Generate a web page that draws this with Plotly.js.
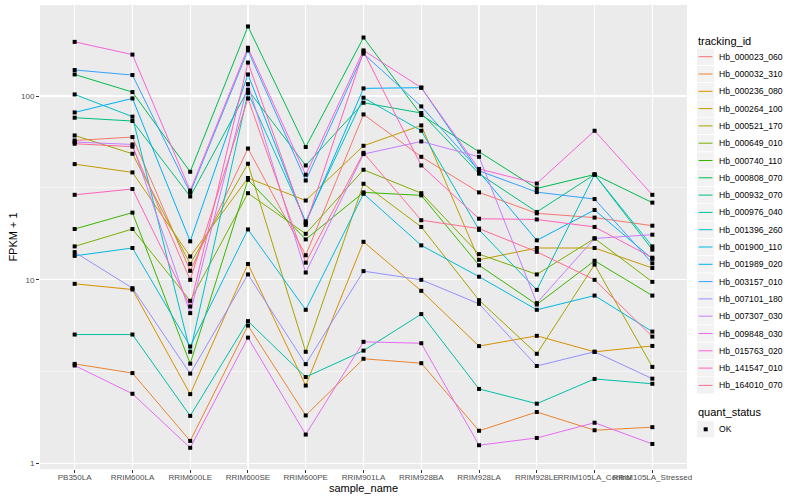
<!DOCTYPE html>
<html>
<head>
<meta charset="utf-8">
<script src="https://cdn.plot.ly/plotly-3.0.1.min.js"></script>
<style>html,body{margin:0;padding:0;background:#fff;}#chart{width:800px;height:500px;}</style>
</head>
<body>
<div id="chart"></div>
<script>
const samples = ["PB350LA","RRIM600LA","RRIM600LE","RRIM600SE","RRIM600PE","RRIM901LA","RRIM928BA","RRIM928LA","RRIM928LE","RRIM105LA_Control","RRIM105LA_Stressed"];

const Hb_000023_060 = [57.3, 59.8, 11.2, 51.8, 13.6, 79.4, 46.7, 29.9, 23.0, 21.8, 19.7];
const Hb_000032_310 = [3.49, 3.11, 1.33, 5.64, 1.83, 3.72, 3.52, 1.51, 1.91, 1.52, 1.58];
const Hb_000236_080 = [9.51, 8.86, 2.39, 12.2, 2.66, 16.1, 8.71, 4.36, 4.96, 4.06, 4.37];
const Hb_000264_100 = [42.6, 38.4, 13.4, 35.8, 27.0, 53.6, 69.2, 12.85, 14.9, 14.9, 11.6];
const Hb_000521_170 = [61.0, 48.5, 12.2, 42.8, 4.06, 33.3, 19.4, 7.75, 3.96, 12.1, 3.36];
const Hb_000649_010 = [15.2, 18.9, 7.69, 29.6, 17.8, 39.7, 29.6, 13.8, 10.7, 16.8, 9.75];
const Hb_000740_110 = [18.9, 23.2, 3.50, 35.0, 16.6, 29.9, 28.8, 12.0, 7.34, 12.7, 8.21];
const Hb_000808_070 = [131, 105, 38.7, 239, 52.8, 208, 78.8, 49.8, 31.4, 37.4, 26.3];
const Hb_000932_070 = [76.2, 73.1, 28.4, 108, 41.9, 91.9, 80.8, 37.8, 23.4, 37.4, 14.6];
const Hb_000976_040 = [5.04, 5.04, 1.82, 5.96, 2.96, 4.12, 6.51, 2.55, 2.12, 2.89, 2.72];
const Hb_001396_260 = [102, 77.2, 4.06, 104, 20.8, 97.9, 64.7, 18.7, 8.82, 37.4, 15.2];
const Hb_001900_110 = [13.5, 14.9, 4.34, 18.8, 6.87, 29.4, 15.4, 10.4, 6.87, 8.21, 5.23];
const Hb_001989_020 = [81.4, 97.0, 16.2, 131, 20.4, 110, 111, 38.6, 16.4, 24.0, 13.0];
const Hb_003157_010 = [138.5, 130, 29.8, 177, 34.7, 170, 87.8, 39.2, 30.0, 27.5, 12.3];
const Hb_007101_180 = [14.15, 9.01, 3.09, 10.7, 3.48, 11.15, 10.0, 7.40, 3.40, 4.06, 2.90];
const Hb_007307_030 = [56.2, 54.5, 6.59, 116, 10.96, 48.3, 56.6, 46.7, 7.47, 16.8, 17.6];
const Hb_009848_030 = [3.42, 2.40, 1.22, 4.85, 1.44, 4.60, 4.52, 1.26, 1.38, 1.67, 1.28];
const Hb_015763_020 = [197, 168, 30.6, 183, 37.3, 177, 111, 40.1, 33.4, 64.7, 29.0];
const Hb_141547_010 = [29.0, 31.2, 7.16, 152, 19.9, 174, 41.9, 21.5, 21.3, 19.4, 13.2];
const Hb_164010_070 = [55.0, 53.0, 10.0, 97.0, 12.4, 49.1, 21.1, 19.0, 14.2, 10.0, 4.91];

const trackingIds = ["Hb_000023_060","Hb_000032_310","Hb_000236_080","Hb_000264_100","Hb_000521_170","Hb_000649_010","Hb_000740_110","Hb_000808_070","Hb_000932_070","Hb_000976_040","Hb_001396_260","Hb_001900_110","Hb_001989_020","Hb_003157_010","Hb_007101_180","Hb_007307_030","Hb_009848_030","Hb_015763_020","Hb_141547_010","Hb_164010_070"];
const seriesValues = [Hb_000023_060,Hb_000032_310,Hb_000236_080,Hb_000264_100,Hb_000521_170,Hb_000649_010,Hb_000740_110,Hb_000808_070,Hb_000932_070,Hb_000976_040,Hb_001396_260,Hb_001900_110,Hb_001989_020,Hb_003157_010,Hb_007101_180,Hb_007307_030,Hb_009848_030,Hb_015763_020,Hb_141547_010,Hb_164010_070];
const hueColors = ["#F8766D","#EA8331","#D89000","#C09B00","#A3A500","#7CAE00","#39B600","#00BB4E","#00BF7D","#00C1A3","#00BFC4","#00BAE0","#00B0F6","#35A2FF","#9590FF","#C77CFF","#E76BF3","#FA62DB","#FF62BC","#FF6C91"];

const yTickVals = [1, 10, 100];
const yTickText = ["1", "10", "100"];
const yMinorVals = [3.1623, 31.623];
const statusLabel = "OK";
const legendTitles = ["tracking_id", "quant_status"];

const FONT = 'Liberation Sans, Arial, sans-serif';

const traces = [];
trackingIds.forEach((id, i) => {
  traces.push({
    type: 'scatter', mode: 'lines', name: id,
    x: samples, y: seriesValues[i],
    line: {color: hueColors[i], width: 1},
    showlegend: false, hoverinfo: 'skip'
  });
});
const allX = [], allY = [];
seriesValues.forEach(vals => vals.forEach((v, j) => { allX.push(samples[j]); allY.push(v); }));
traces.push({
  type: 'scatter', mode: 'markers', name: statusLabel,
  x: allX, y: allY,
  marker: {symbol: 'square', size: 4, color: '#000'},
  showlegend: false, hoverinfo: 'skip'
});

// Manual ggplot-style legend (pixel geometry converted to paper coords)
const plotL = 40, plotR = 687, plotT = 5, plotB = 469;
const px = x => (x - plotL) / (plotR - plotL);
const py = y => (plotB - y) / (plotB - plotT);
const shapes = [], annotations = [];
const keyX0 = 697, keyX1 = 714, rowStep = 17.3, firstRow = 56.7, keyHalf = 8.2, textX = 717;

annotations.push({xref: 'paper', yref: 'paper', x: px(696), y: py(40.7), xanchor: 'left', yanchor: 'middle',
  text: legendTitles[0], showarrow: false, font: {family: FONT, size: 11, color: '#000'}});
trackingIds.forEach((id, i) => {
  const cy = firstRow + rowStep * i;
  shapes.push({type: 'rect', xref: 'paper', yref: 'paper', x0: px(keyX0), x1: px(keyX1), y0: py(cy + keyHalf), y1: py(cy - keyHalf),
    fillcolor: '#F2F2F2', line: {width: 0}, layer: 'above'});
  shapes.push({type: 'line', xref: 'paper', yref: 'paper', x0: px(keyX0 + 1.5), x1: px(keyX1 - 1.5), y0: py(cy), y1: py(cy),
    line: {color: hueColors[i], width: 1}, layer: 'above'});
  annotations.push({xref: 'paper', yref: 'paper', x: px(textX), y: py(cy), xanchor: 'left', yanchor: 'middle',
    text: id, showarrow: false, font: {family: FONT, size: 8.6, color: '#000'}});
});
annotations.push({xref: 'paper', yref: 'paper', x: px(696), y: py(411.7), xanchor: 'left', yanchor: 'middle',
  text: legendTitles[1], showarrow: false, font: {family: FONT, size: 11, color: '#000'}});
const okY = 429.3;
shapes.push({type: 'rect', xref: 'paper', yref: 'paper', x0: px(keyX0), x1: px(keyX1), y0: py(okY + keyHalf), y1: py(okY - keyHalf),
  fillcolor: '#F2F2F2', line: {width: 0}, layer: 'above'});
shapes.push({type: 'rect', xref: 'paper', yref: 'paper', x0: px(703.7), x1: px(707.7), y0: py(okY + 2), y1: py(okY - 2),
  fillcolor: '#000', line: {width: 0}, layer: 'above'});
annotations.push({xref: 'paper', yref: 'paper', x: px(textX), y: py(okY), xanchor: 'left', yanchor: 'middle',
  text: statusLabel, showarrow: false, font: {family: FONT, size: 8.6, color: '#000'}});

const layout = {
  width: 800, height: 500,
  margin: {l: plotL, r: 800 - plotR, t: plotT, b: 500 - plotB},
  paper_bgcolor: '#fff', plot_bgcolor: '#EBEBEB',
  font: {family: FONT, size: 9, color: '#4D4D4D'},
  xaxis: {
    type: 'category', range: [-0.6, 10.6],
    showgrid: true, gridcolor: '#fff', gridwidth: 1.1,
    ticks: 'outside', ticklen: 3, tickcolor: '#333', tickwidth: 1,
    tickangle: 0, tickfont: {size: 8, color: '#4D4D4D'},
    ticklabelstandoff: -3,
    zeroline: false, showline: false,
    title: {text: 'sample_name', font: {size: 11, color: '#000'}, standoff: 0}
  },
  yaxis: {
    type: 'log', range: [-0.029, 2.495],
    tickvals: yTickVals, ticktext: yTickText,
    showgrid: true, gridcolor: '#fff', gridwidth: 1.1,
    minor: {tickvals: yMinorVals, showgrid: true, gridcolor: '#fff', gridwidth: 0.55, ticks: ''},
    ticks: 'outside', ticklen: 3, tickcolor: '#333', tickwidth: 1,
    tickfont: {size: 8, color: '#4D4D4D'},
    zeroline: false, showline: false,
    title: {text: 'FPKM + 1', font: {size: 11, color: '#000'}, standoff: 1}
  },
  shapes: shapes,
  annotations: annotations,
  showlegend: false
};

Plotly.newPlot('chart', traces, layout, {staticPlot: true, displayModeBar: false});
</script>
</body>
</html>
